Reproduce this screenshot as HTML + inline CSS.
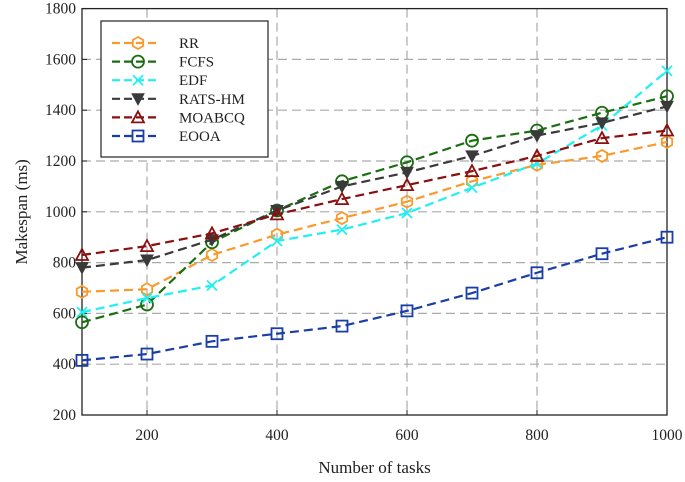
<!DOCTYPE html>
<html><head><meta charset="utf-8"><style>
html,body{margin:0;padding:0;background:#fff;}
svg{display:block;font-family:"Liberation Serif",serif;}
</style></head><body>
<svg id="chart" width="685" height="482"></svg>
<script>
const categories=[100,200,300,400,500,600,700,800,900,1000];
const rrValues=[685,695,830,910,975,1040,1120,1185,1220,1275];
const fcfsValues=[565,635,880,1005,1120,1195,1280,1320,1390,1455];
const edfValues=[605,660,710,885,930,995,1095,1190,1340,1555];
const ratsValues=[780,810,890,1005,1100,1155,1220,1300,1350,1415];
const moabcqValues=[830,865,915,990,1050,1105,1160,1220,1290,1320];
const eooaValues=[415,440,490,520,550,610,680,760,835,900];
const yTicks=[200,400,600,800,1000,1200,1400,1600,1800];
const xTicks=[200,400,600,800,1000];

const NS="http://www.w3.org/2000/svg";
const svg=document.getElementById('chart');
const X0=82,X1=667,Y0=415,Y1=8.6;
const xs=v=>X0+(v-100)/900*(X1-X0);
const ys=v=>Y0-(v-200)/1600*(Y0-Y1);
function mk(tag,attrs,parent){const e=document.createElementNS(NS,tag);for(const k in attrs)e.setAttribute(k,attrs[k]);(parent||svg).appendChild(e);return e;}

const grid=mk('g',{});


yTicks.forEach(t=>{if(t>200&&t<1800)mk('line',{x1:X0,x2:X1,y1:ys(t),y2:ys(t),stroke:'#aaaaaa','stroke-width':1.2,'stroke-dasharray':'9,5'},grid);});
xTicks.forEach(t=>{if(t<1000)mk('line',{x1:xs(t),x2:xs(t),y1:Y1,y2:Y0,stroke:'#aaaaaa','stroke-width':1.2,'stroke-dasharray':'9,5'},grid);});

const axes=mk('g',{});


mk('rect',{x:X0,y:Y1,width:X1-X0,height:Y0-Y1,fill:'none',stroke:'#222','stroke-width':1.3},axes);
yTicks.forEach(t=>{
 mk('line',{x1:X0,x2:X0+5,y1:ys(t),y2:ys(t),stroke:'#222'},axes);
 const tx=mk('text',{x:X0-6,y:ys(t)+5,'text-anchor':'end','font-size':15.5,fill:'#222'},axes);
 tx.textContent=t;
 
 
});
xTicks.forEach(t=>{
 mk('line',{x1:xs(t),x2:xs(t),y1:Y0,y2:Y0-5,stroke:'#222'},axes);
 const tx=mk('text',{x:xs(t),y:Y0+25,'text-anchor':'middle','font-size':15.5,fill:'#222'},axes);
 tx.textContent=t;
 
 
});
const yl=mk('text',{x:0,y:0,transform:'translate(27,'+((Y0+Y1)/2)+') rotate(-90)','text-anchor':'middle','font-size':17,fill:'#222'});
yl.textContent='Makespan (ms)';


const xl=mk('text',{x:(X0+X1)/2,y:473,'text-anchor':'middle','font-size':17,fill:'#222'});
xl.textContent='Number of tasks';



function marker(g,type,x,y,c){
 if(type==='hex'){let p=[];for(let i=0;i<6;i++){const a=Math.PI/6+i*Math.PI/3;p.push((x+6*Math.cos(a))+','+(y+6*Math.sin(a)));}mk('polygon',{points:p.join(' '),fill:'none',stroke:c,'stroke-width':1.8},g);}
 else if(type==='circle')mk('circle',{cx:x,cy:y,r:6,fill:'none',stroke:c,'stroke-width':1.8},g);
 else if(type==='x'){mk('path',{d:`M${x-5},${y-5}L${x+5},${y+5}M${x-5},${y+5}L${x+5},${y-5}`,stroke:c,'stroke-width':1.8},g);}
 else if(type==='tridown')mk('polygon',{points:`${x-6},${y-5} ${x+6},${y-5} ${x},${y+6}`,fill:c,stroke:c,'stroke-width':1},g);
 else if(type==='triup')mk('polygon',{points:`${x-6},${y+5} ${x+6},${y+5} ${x},${y-6}`,fill:'none',stroke:c,'stroke-width':1.8},g);
 else if(type==='square')mk('rect',{x:x-5.5,y:y-5.5,width:11,height:11,fill:'none',stroke:c,'stroke-width':1.8},g);
}
const series=[
 {name:'RR',vals:rrValues,c:'#f89a2c',m:'hex'},
 {name:'FCFS',vals:fcfsValues,c:'#1a6e10',m:'circle'},
 {name:'EDF',vals:edfValues,c:'#22f0f0',m:'x'},
 {name:'RATS-HM',vals:ratsValues,c:'#3a3a3a',m:'tridown'},
 {name:'MOABCQ',vals:moabcqValues,c:'#8b0f0f',m:'triup'},
 {name:'EOOA',vals:eooaValues,c:'#1a3ea8',m:'square'}
];
series.forEach(s=>{
 const g=mk('g',{});
 
 
 mk('polyline',{points:s.vals.map((v,i)=>xs(categories[i])+','+ys(v)).join(' '),fill:'none',stroke:s.c,'stroke-width':2.2,'stroke-dasharray':'9,5'},g);
 s.vals.forEach((v,i)=>marker(g,s.m,xs(categories[i]),ys(v),s.c));
});

const lg=mk('g',{});


mk('rect',{x:101,y:21,width:167,height:136,fill:'#fff',stroke:'#222','stroke-width':1.2},lg);
series.forEach((s,i)=>{
 const y=43+i*18.6;
 const e=mk('g',{},lg);
 
 
 mk('line',{x1:112,x2:160,y1:y,y2:y,stroke:s.c,'stroke-width':2.2,'stroke-dasharray':'8,4'},e);
 marker(e,s.m,138,y,s.c);
 const t=mk('text',{x:179,y:y+5,'font-size':15,fill:'#222'},e);
 t.textContent=s.name;
});
</script>
</body></html>
